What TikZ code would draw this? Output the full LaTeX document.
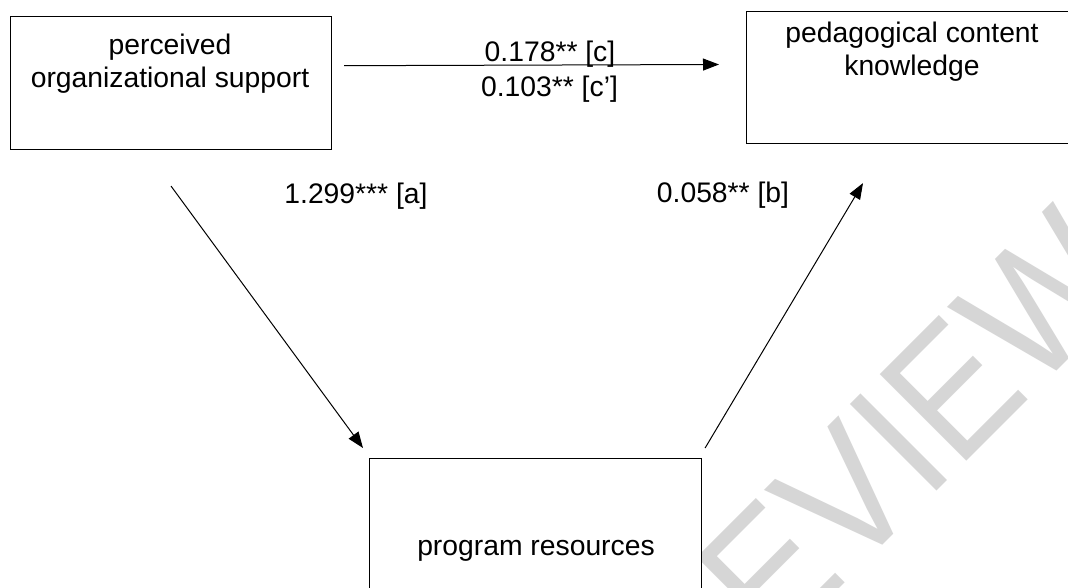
\documentclass[tikz,border=0pt]{standalone}
\usepackage{fontspec}
\setmainfont{Liberation Sans}
\usetikzlibrary{arrows.meta}
\newcommand{\topstrut}{\rule{0pt}{22pt}}
\begin{document}
\begin{tikzpicture}[x=1pt,y=-1pt,
  box/.style={draw=black, line width=1.1pt, fill=white, inner sep=0pt, anchor=north west},
  txt/.style={font=\fontsize{28.3}{33}\selectfont, align=center, inner sep=0pt, anchor=north},
  lab/.style={font=\fontsize{28.3}{33}\selectfont, inner sep=0pt, anchor=base},
  arr/.style={-{Triangle[length=16pt,width=12pt]}, line width=1pt},
  wm/.style={font=\fontsize{178}{178}\selectfont, text=black!16, inner sep=0pt, anchor=base west, rotate=45, xscale=0.9}]
\useasboundingbox (0,0) rectangle (1068,588);
\fill[white] (0,0) rectangle (1068,588);
% watermark
\node[wm] (wmark) at (693,735) {REVIEW};
% boxes
\node[box, minimum width=321pt, minimum height=133pt] (pos) at (10,16) {};
\node[box, minimum width=330pt, minimum height=132pt] (pck) at (746,11) {};
\node[box, minimum width=332pt, minimum height=140pt] (pr) at (369,458) {};
% box texts
\node[txt] (postxt) at (170,32.3) {\topstrut perceived\\organizational support};
\node[txt] (pcktxt) at (912,20.7) {\topstrut pedagogical content\\knowledge};
\node[txt] (prtxt) at (536,533) {\topstrut program resources};
% labels
\node[lab] (lc) at (550,62) {0.178** [c]};
\node[lab] (lcp) at (549.5,97) {0.103** [c’]};
\node[lab] (la) at (356,204) {1.299*** [a]};
\node[lab] (lb) at (723,203) {0.058** [b]};
% connectors
\draw[arr] ([shift={(12,49.7)}]pos.north east) -- ([shift={(-27,53.5)}]pck.north west);
\draw[arr] ([shift={(0,36)}]pos.south) -- ([shift={(-6,-10)}]pr.north west);
\draw[arr] ([shift={(3,-10)}]pr.north east) -- ([shift={(117,39)}]pck.south west);
\end{tikzpicture}
\end{document}
